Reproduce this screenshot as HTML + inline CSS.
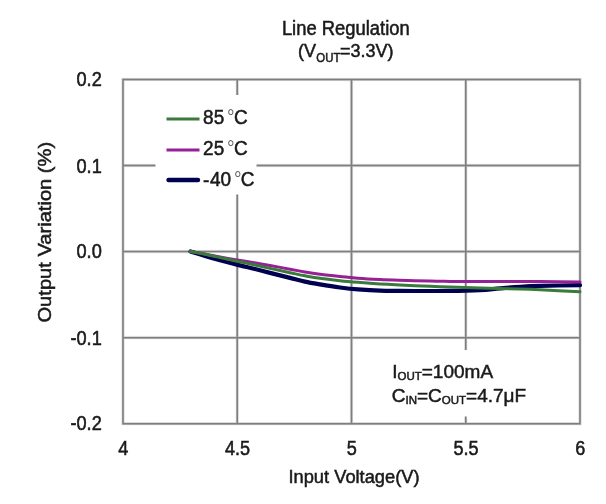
<!DOCTYPE html>
<html><head><meta charset="utf-8"><title>Line Regulation</title>
<style>html,body{margin:0;padding:0;background:#fff;}svg{display:block;will-change:transform;}</style></head>
<body><svg width="606" height="504" viewBox="0 0 606 504">
<rect x="0" y="0" width="606" height="504" fill="#fff"/>
<path d="M237.25 79.5V423.7M351.50 79.5V423.7M465.75 79.5V423.7M123 165.55H580M123 251.60H580M123 337.65H580M123 79.5H580V423.7H123Z" fill="none" stroke="#f0f0f0" stroke-width="3.6"/>
<path d="M237.25 79.5V423.7M351.50 79.5V423.7M465.75 79.5V423.7M123 165.55H580M123 251.60H580M123 337.65H580M123 79.5H580V423.7H123Z" fill="none" stroke="#c8c8c8" stroke-width="2.4"/>
<path d="M237.25 79.5V423.7M351.50 79.5V423.7M465.75 79.5V423.7M123 165.55H580M123 251.60H580M123 337.65H580M123 79.5H580V423.7H123Z" fill="none" stroke="#7e7e7e" stroke-width="1.5"/>
<rect x="155.5" y="95" width="101" height="99.5" fill="#fff"/>
<rect x="388" y="350" width="145" height="66.5" fill="#fff"/>
<path d="M190.5 251.5 C192.9 252.2 200.1 254.5 205.0 256.0 C209.9 257.5 214.7 258.9 220.0 260.3 C225.3 261.7 231.2 263.2 237.0 264.6 C242.8 266.1 249.5 267.6 255.0 269.0 C260.5 270.4 264.2 271.4 270.0 272.9 C275.8 274.4 284.2 276.4 290.0 277.9 C295.8 279.3 300.0 280.5 305.0 281.6 C310.0 282.7 314.2 283.4 320.0 284.4 C325.8 285.4 333.7 286.7 340.0 287.5 C346.3 288.3 351.3 288.9 358.0 289.4 C364.7 289.9 373.0 290.4 380.0 290.6 C387.0 290.9 391.7 290.8 400.0 290.9 C408.3 291.0 421.7 291.0 430.0 291.0 C438.3 291.0 441.7 291.0 450.0 290.9 C458.3 290.8 471.7 290.5 480.0 290.1 C488.3 289.7 493.3 288.9 500.0 288.4 C506.7 287.8 513.3 287.2 520.0 286.8 C526.7 286.4 530.0 286.2 540.0 285.9 C550.0 285.6 573.3 285.3 580.0 285.2" fill="none" stroke="#000050" stroke-width="4.2" stroke-linecap="round"/>
<path d="M190.5 251.5 C192.9 251.9 200.1 253.2 205.0 254.1 C209.9 255.0 214.7 256.0 220.0 257.0 C225.3 258.0 231.0 259.0 237.0 260.0 C243.0 261.0 250.5 262.2 256.0 263.1 C261.5 264.0 264.3 264.5 270.0 265.5 C275.7 266.5 284.2 268.1 290.0 269.2 C295.8 270.3 300.0 271.1 305.0 272.0 C310.0 272.9 314.2 273.6 320.0 274.3 C325.8 275.1 333.7 275.9 340.0 276.5 C346.3 277.1 351.3 277.7 358.0 278.2 C364.7 278.7 373.0 279.2 380.0 279.6 C387.0 280.0 391.7 280.1 400.0 280.3 C408.3 280.6 421.7 280.9 430.0 281.1 C438.3 281.3 441.7 281.3 450.0 281.4 C458.3 281.5 468.3 281.6 480.0 281.6 C491.7 281.6 510.0 281.6 520.0 281.6 C530.0 281.6 530.0 281.4 540.0 281.5 C550.0 281.6 573.3 281.8 580.0 281.9" fill="none" stroke="#962096" stroke-width="3.0" stroke-linecap="round"/>
<path d="M190.5 251.5 C192.9 251.9 200.1 253.2 205.0 254.2 C209.9 255.2 214.7 256.3 220.0 257.5 C225.3 258.7 231.2 259.9 237.0 261.2 C242.8 262.4 249.5 263.8 255.0 265.0 C260.5 266.2 264.2 267.1 270.0 268.4 C275.8 269.7 284.2 271.5 290.0 272.7 C295.8 273.9 300.0 274.9 305.0 275.8 C310.0 276.7 314.2 277.5 320.0 278.3 C325.8 279.1 333.7 280.0 340.0 280.7 C346.3 281.4 351.3 281.8 358.0 282.3 C364.7 282.8 373.0 283.4 380.0 283.9 C387.0 284.3 391.7 284.6 400.0 285.0 C408.3 285.4 421.7 286.0 430.0 286.3 C438.3 286.6 441.7 286.7 450.0 287.0 C458.3 287.3 468.3 287.6 480.0 287.9 C491.7 288.2 510.0 288.7 520.0 289.0 C530.0 289.3 530.0 289.3 540.0 289.8 C550.0 290.3 573.3 291.5 580.0 291.8" fill="none" stroke="#3a7a3a" stroke-width="3.0" stroke-linecap="round"/>
<line x1="166.5" y1="119.1" x2="199.5" y2="119.1" stroke="#3a7a3a" stroke-width="3.0"/>
<line x1="166.5" y1="150.1" x2="199.5" y2="150.1" stroke="#962096" stroke-width="3.0"/>
<line x1="168.5" y1="180.0" x2="198" y2="180.0" stroke="#000050" stroke-width="4.4" stroke-linecap="round"/>
<g font-family="Liberation Sans, Arial, sans-serif" fill="#1a1a1a" stroke="#1a1a1a" stroke-width="0.5">
<text transform="translate(345.8,34.8) scale(1,1.07)" font-size="18.4" text-anchor="middle">Line Regulation</text>
<text transform="translate(298.1,57.1) scale(1,1.02)" font-size="18" text-anchor="start">(V</text>
<text transform="translate(316.3,61.6) scale(0.95,1.1)" font-size="12" text-anchor="start">OUT</text>
<text transform="translate(340.1,57.1) scale(1,1.02)" font-size="18" text-anchor="start">=3.3V)</text>
<text transform="translate(101.8,86) scale(1,1.15)" font-size="18.2" text-anchor="end">0.2</text>
<text transform="translate(101.8,173) scale(1,1.15)" font-size="18.2" text-anchor="end">0.1</text>
<text transform="translate(101.8,258) scale(1,1.15)" font-size="18.2" text-anchor="end">0.0</text>
<text transform="translate(101.8,345) scale(1,1.15)" font-size="18.2" text-anchor="end">-0.1</text>
<text transform="translate(101.8,430) scale(1,1.15)" font-size="18.2" text-anchor="end">-0.2</text>
<text transform="translate(123.3,454.95) scale(1,1.15)" font-size="18.1" text-anchor="middle">4</text>
<text transform="translate(237.55,454.95) scale(1,1.15)" font-size="18.1" text-anchor="middle">4.5</text>
<text transform="translate(351.8,454.95) scale(1,1.15)" font-size="18.1" text-anchor="middle">5</text>
<text transform="translate(466.05,454.95) scale(1,1.15)" font-size="18.1" text-anchor="middle">5.5</text>
<text transform="translate(580.3,454.95) scale(1,1.15)" font-size="18.1" text-anchor="middle">6</text>
<text transform="translate(354,483.1)" font-size="18.3" text-anchor="middle">Input Voltage(V)</text>
<text transform="translate(51.3,232.2) rotate(-90) scale(1.117,1)" font-size="18" text-anchor="middle">Output Variation (%)</text>
<text transform="translate(203.1,124.3) scale(1,1.07)" font-size="19" text-anchor="start">85<tspan dx="2.8" fill="#6a6a6a" stroke="none">°</tspan><tspan dx="-0.7">C</tspan></text>
<text transform="translate(203.1,155.3) scale(1,1.07)" font-size="19" text-anchor="start">25<tspan dx="2.8" fill="#6a6a6a" stroke="none">°</tspan><tspan dx="-0.7">C</tspan></text>
<text transform="translate(202.9,185.7) scale(1,1.07)" font-size="19" text-anchor="start"><tspan dy="1.4">-</tspan><tspan dy="-1.4" dx="0.8">40</tspan><tspan dx="2.8" fill="#6a6a6a" stroke="none">°</tspan><tspan dx="-0.7">C</tspan></text>
<text transform="translate(392.2,377.8)" font-size="19" text-anchor="start">I<tspan font-size="11.5" dy="2">OUT</tspan><tspan dy="-2">=100mA</tspan></text>
<text transform="translate(391.7,401.5)" font-size="19" text-anchor="start">C<tspan font-size="11.5" dy="2">IN</tspan><tspan dy="-2">=C</tspan><tspan font-size="11.5" dy="2">OUT</tspan><tspan dy="-2">=4.7μF</tspan></text>
</g>
</svg></body></html>
